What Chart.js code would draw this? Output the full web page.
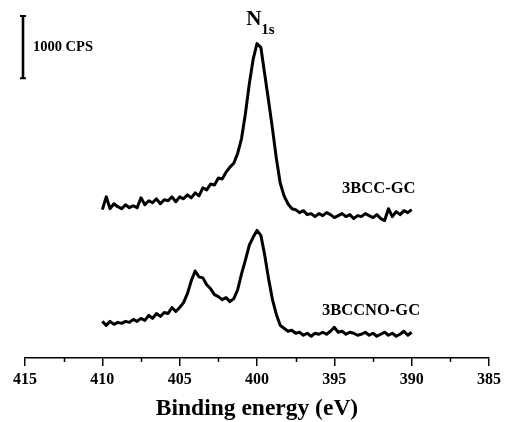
<!DOCTYPE html>
<html>
<head>
<meta charset="utf-8">
<script src="https://cdn.jsdelivr.net/npm/chart.js@4/dist/chart.umd.min.js"></script>
<style>
  html,body{margin:0;padding:0;background:#fff;}
  #wrap{width:505px;height:422px;position:relative;}
</style>
</head>
<body>
<div id="wrap"><canvas id="c" width="505" height="422"></canvas></div>
<script>
// Binding energies (eV), 410 -> 390 in 0.25 eV steps
const energies = [
  410.00,409.75,409.50,409.25,409.00,408.75,408.50,408.25,408.00,407.75,
  407.50,407.25,407.00,406.75,406.50,406.25,406.00,405.75,405.50,405.25,
  405.00,404.75,404.50,404.25,404.00,403.75,403.50,403.25,403.00,402.75,
  402.50,402.25,402.00,401.75,401.50,401.25,401.00,400.75,400.50,400.25,
  400.00,399.75,399.50,399.25,399.00,398.75,398.50,398.25,398.00,397.75,
  397.50,397.25,397.00,396.75,396.50,396.25,396.00,395.75,395.50,395.25,
  395.00,394.75,394.50,394.25,394.00,393.75,393.50,393.25,393.00,392.75,
  392.50,392.25,392.00,391.75,391.50,391.25,391.00,390.75,390.50,390.25,
  390.00
];
// Intensities (arbitrary units, offset spectra; 63 units = 1000 CPS)
const bcc = [
  150,163,151,156,153,151,155,152,154,152,
  162,155,159,157,161,156,160,159,163,158,
  163,161,165,162,167,164,172,170,176,175,
  182,181,188,193,197,207,222,247,277,302,
  318,314,287,260,232,202,177,164,156,151,
  150,147,149,145,146,143,146,144,147,145,
  142,144,146,143,145,141,144,143,146,144,
  142,145,141,139,151,143,148,145,149,147,
  150
];
const bccno = [
  37,33,37,34,36,35,37,36,39,37,
  40,38,43,40,45,42,46,45,51,47,
  51,56,65,78,88,82,81,74,70,64,
  62,59,61,57,60,69,85,99,114,122,
  129,124,104,80,59,44,33,30,27,28,
  25,26,23,25,22,25,24,26,24,27,
  31,26,27,24,26,25,23,24,26,23,
  25,22,24,26,23,25,22,24,27,23,
  26
];
const seriesNames = ['3BCC-GC','3BCCNO-GC'];
const xTicks = [415,410,405,400,395,390,385];
const minorTicks = [412.5,407.5,402.5,397.5,392.5,387.5];
const scaleBarUnits = 63; // = 1000 CPS
const scaleBarLabel = '1000 CPS';
const xTitle = 'Binding energy (eV)';

const SERIF = '"Liberation Serif","Times New Roman",serif';

const annot = {
  id:'annot',
  afterDraw(chart){
    const ctx = chart.ctx, xs = chart.scales.x, ys = chart.scales.y, ca = chart.chartArea;
    ctx.save();
    // minor ticks
    ctx.strokeStyle = '#000'; ctx.lineWidth = 1.5;
    minorTicks.forEach(v=>{
      const px = Math.round(xs.getPixelForValue(v))+0.5;
      ctx.beginPath(); ctx.moveTo(px, ca.bottom); ctx.lineTo(px, ca.bottom+4); ctx.stroke();
    });
    // scale bar
    const bx = xs.getPixelForValue(415.13);
    const y1 = ys.getPixelForValue(346), y2 = ys.getPixelForValue(346 - scaleBarUnits);
    ctx.lineWidth = 2.6;
    ctx.beginPath(); ctx.moveTo(bx, y1); ctx.lineTo(bx, y2); ctx.stroke();
    ctx.lineWidth = 2;
    ctx.beginPath(); ctx.moveTo(bx-3, y1); ctx.lineTo(bx+3, y1); ctx.moveTo(bx-3, y2); ctx.lineTo(bx+3, y2); ctx.stroke();
    ctx.fillStyle = '#000';
    ctx.textBaseline = 'middle'; ctx.textAlign = 'left';
    ctx.font = 'bold 14.5px ' + SERIF;
    ctx.fillText(scaleBarLabel, bx + 10, (y1+y2)/2);
    // series labels
    ctx.font = 'bold 16.5px ' + SERIF;
    ctx.fillText(seriesNames[0], xs.getPixelForValue(394.5), ys.getPixelForValue(171));
    ctx.fillText(seriesNames[1], xs.getPixelForValue(395.8), ys.getPixelForValue(48));
    // N1s
    ctx.font = 'bold 21px ' + SERIF;
    const nx = xs.getPixelForValue(400.7), ny = ys.getPixelForValue(342);
    ctx.fillText('N', nx, ny);
    const nw = ctx.measureText('N').width;
    ctx.font = 'bold 15px ' + SERIF;
    ctx.fillText('1s', nx + nw, ny + 10);
    ctx.restore();
  }
};

new Chart(document.getElementById('c'), {
  type:'line',
  data:{
    datasets:[
      {label:seriesNames[0], data: energies.map((e,i)=>({x:e,y:bcc[i]})), borderColor:'#000', borderWidth:3, pointRadius:0, tension:0, fill:false, borderJoinStyle:'round'},
      {label:seriesNames[1], data: energies.map((e,i)=>({x:e,y:bccno[i]})), borderColor:'#000', borderWidth:3, pointRadius:0, tension:0, fill:false, borderJoinStyle:'round'}
    ]
  },
  options:{
    responsive:false, animation:false,
    layout:{padding:{left:25,right:14,top:10,bottom:0}},
    plugins:{legend:{display:false}, tooltip:{enabled:false}},
    scales:{
      x:{
        type:'linear', reverse:true, min:385, max:415,
        afterBuildTicks(s){ s.ticks = xTicks.map(v=>({value:v})); },
        ticks:{color:'#000', font:{family:SERIF, size:16, weight:'bold'}, padding:4, maxRotation:0, autoSkip:false},
        grid:{drawOnChartArea:false, drawTicks:true, tickLength:8, color:'#000', lineWidth:1.5},
        border:{display:true, color:'#000', width:1.5},
        title:{display:true, text:xTitle, color:'#000', font:{family:SERIF, size:23.5, weight:'bold', lineHeight:1.1}, padding:{top:3,bottom:0}}
      },
      y:{display:false, min:0, max:352}
    }
  },
  plugins:[annot]
});
</script>
</body>
</html>
